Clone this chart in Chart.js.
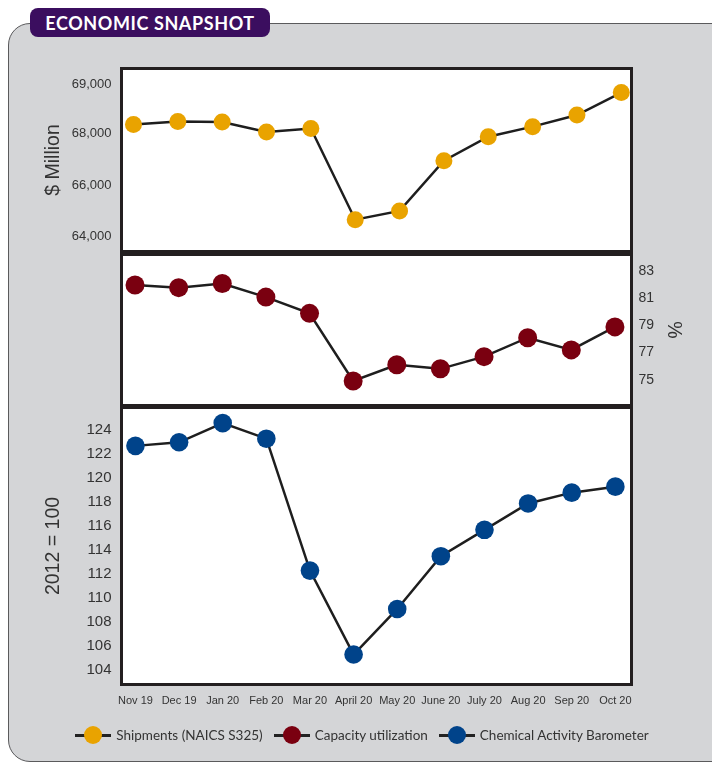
<!DOCTYPE html>
<html>
<head>
<meta charset="utf-8">
<script src="https://cdn.jsdelivr.net/npm/chart.js@4.4.1/dist/chart.umd.min.js"></script>
<style>
  body { margin: 0; background: #fff; font-family: Lato, "Noto Sans", sans-serif; }
  #wrap { position: relative; width: 712px; height: 764px; overflow: hidden; }
  #panel { position: absolute; left: 8px; top: 23px; width: 740px; height: 739px; box-sizing: border-box;
           background: #d4d5d7; border: 1.5px solid #5a5a5c; border-radius: 22px; }
  #tab { position: absolute; left: 30px; top: 8px; width: 240px; height: 29px; border-radius: 8px;
         background: #3b0e5f; color: #fff; font-weight: 700; font-size: 18px; letter-spacing: 0.6px;
         line-height: 30px; text-align: center; }
  canvas { position: absolute; left: 0; }
  #legend { position: absolute; left: 0; top: 726px; width: 712px; display: flex; justify-content: center;
            gap: 11px; padding-left: 12px; box-sizing: border-box; font-size: 13.5px; color: #333; line-height: 18px; }
  .item { display: flex; align-items: center; }
  .mk { position: relative; width: 36px; height: 18px; margin-right: 5px; }
  .mk::before { content: ''; position: absolute; left: 0; right: 0; top: 7.5px; height: 3px; background: #222; }
  .mk i { position: absolute; left: 9px; top: 0; width: 18px; height: 18px; border-radius: 50%; }
</style>
</head>
<body>
<div id="wrap">
  <div id="panel"></div>
  <div id="tab">ECONOMIC SNAPSHOT</div>
  <canvas id="top" width="712" height="200" style="top:60px"></canvas>
  <canvas id="mid" width="712" height="170" style="top:245px"></canvas>
  <canvas id="bot" width="712" height="322" style="top:398px"></canvas>
  <div id="legend"></div>
</div>
<script>
const months = ['Nov 19', 'Dec 19', 'Jan 20', 'Feb 20', 'Mar 20', 'April 20', 'May 20', 'June 20', 'July 20', 'Aug 20', 'Sep 20', 'Oct 20'];
const shipments = [68340, 68460, 68440, 68050, 68190, 64660, 65000, 66940, 67870, 68260, 68710, 69580];
const capacity = [82.0, 81.8, 82.1, 81.1, 79.9, 74.9, 76.1, 75.8, 76.7, 78.1, 77.2, 78.9];
const barometer = [122.7, 123.0, 124.6, 123.3, 112.3, 105.3, 109.1, 113.5, 115.7, 117.9, 118.8, 119.3];

// the source chart places its "69,000" label higher than a linear axis would
const shipTicks = [64000, 66000, 68000, 69890];
const shipTickLabels = ['64,000', '66,000', '68,000', '69,000'];
const capTicks = [75, 77, 79, 81, 83];
const cabTicks = [104, 106, 108, 110, 112, 114, 116, 118, 120, 122, 124];

const seriesNames = ['Shipments (NAICS S325)', 'Capacity utilization', 'Chemical Activity Barometer'];
const seriesColors = ['#e9a300', '#7a0010', '#00438a'];

const textColor = '#333';

const boxPlugin = {
  id: 'box',
  beforeDraw(chart) {
    const { ctx, chartArea: a } = chart;
    ctx.save();
    ctx.fillStyle = '#fff';
    ctx.fillRect(a.left, a.top, a.width, a.height);
    ctx.restore();
  },
  afterDraw(chart) {
    const { ctx, chartArea: a } = chart;
    ctx.save();
    ctx.strokeStyle = '#231f20';
    ctx.lineWidth = 3;
    ctx.strokeRect(a.left, a.top, a.width, a.height);
    ctx.restore();
  }
};

// keep the plot box exactly where the layout padding puts it
function noPad(s) {
  s.paddingTop = 0; s.paddingBottom = 0; s.paddingLeft = 0; s.paddingRight = 0;
}

function xAxis(min, max, show) {
  return {
    type: 'linear', min, max, display: show,
    grid: { display: false, drawTicks: false }, border: { display: false },
    afterBuildTicks: s => { s.ticks = months.map((m, i) => ({ value: i })); },
    ticks: { autoSkip: false, maxRotation: 0, padding: 10, color: textColor, font: { size: 11 },
             callback: v => months[v] },
    afterFit: s => { s.height = show ? 35.5 : 0; noPad(s); }
  };
}

function yAxis(pos, min, max, tickVals, tickLabels, title, titlePad, fontSize, width) {
  return {
    position: pos, min, max,
    grid: { display: false, drawTicks: false }, border: { display: false },
    afterBuildTicks: s => { s.ticks = tickVals.map(v => ({ value: v })); },
    ticks: { padding: pos === 'left' ? 10 : 7, color: textColor, font: { size: fontSize },
             callback: (v, i) => tickLabels[i] },
    title: { display: true, text: title, color: textColor, font: { size: 19.5 }, padding: { top: titlePad, bottom: 0 } },
    afterFit: s => { s.width = width; noPad(s); }
  };
}

function makeChart(id, values, color, radius, xOpts, yOpts, padding) {
  return new Chart(document.getElementById(id), {
    type: 'line',
    data: {
      labels: months.map((m, i) => i),
      datasets: [{
        data: values,
        borderColor: '#1e1e1e',
        borderWidth: 2.5,
        tension: 0,
        pointRadius: radius,
        pointHoverRadius: radius,
        pointBackgroundColor: color,
        pointBorderWidth: 0,
        clip: false
      }]
    },
    options: {
      responsive: false,
      animation: false,
      devicePixelRatio: 1,
      layout: { padding },
      plugins: { legend: { display: false }, tooltip: { enabled: false } },
      events: [],
      scales: { x: xOpts, y: yOpts }
    },
    plugins: [boxPlugin]
  });
}

makeChart('top', shipments, seriesColors[0], 8.5,
  xAxis(-0.27, 11.23, false),
  yAxis('left', 63430, 70510, shipTicks, shipTickLabels, '$ Million', 42, 13, 121.5),
  { left: 0, right: 80.5, top: 8.5, bottom: 7.5 });

makeChart('mid', capacity, seriesColors[1], 9.5,
  xAxis(-0.31, 11.38, false),
  yAxis('right', 73.09, 84.25, capTicks, capTicks.map(String), '%', 27, 14, 80.5),
  { left: 121.5, right: 0, top: 7.5, bottom: 7.5 });

makeChart('bot', barometer, seriesColors[2], 9.3,
  xAxis(-0.32, 11.37, true),
  yAxis('left', 102.8, 125.9, cabTicks, cabTicks.map(String), '2012 = 100', 42, 15, 121.5),
  { left: 0, right: 80.5, top: 9.5, bottom: 0 });

const legend = document.getElementById('legend');
seriesNames.forEach((name, i) => {
  const item = document.createElement('span');
  item.className = 'item';
  item.innerHTML = '<span class="mk"><i style="background:' + seriesColors[i] + '"></i></span>' + name;
  legend.appendChild(item);
});
</script>
</body>
</html>
